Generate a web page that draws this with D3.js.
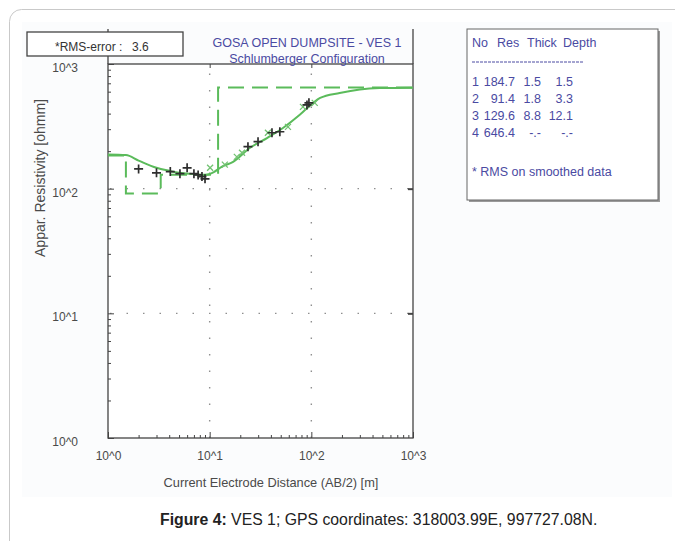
<!DOCTYPE html>
<html><head><meta charset="utf-8">
<script src="https://cdn.jsdelivr.net/npm/d3@7"></script>
<style>html,body{margin:0;padding:0;background:#fff;}svg{display:block;}</style>
</head><body>
<script>
// ---- data ----
const obsX = [2.0, 3.0, 4.1, 5.1, 6.0, 7.0, 7.7, 8.4, 9.0, 23.8, 29.9, 41, 49, 90.6, 94.7];
const obsY = [144, 134, 137, 132, 147, 132, 129, 125, 120, 217, 238, 281, 286, 470, 488];
const smX = [10.1, 14.1, 18.5, 20.8, 37.4, 58.9, 82.7, 108];
const smY = [147, 156, 180, 194, 281, 313, 453, 488];
const curveX = [1, 1.5, 2, 3, 4, 5, 7, 9, 11, 13, 17, 25, 37, 53, 77, 104, 122, 190, 300, 470, 1000];
const curveY = [188, 186, 168, 147, 139, 134, 131, 129, 136, 149, 164, 213, 256, 308, 391, 488, 535, 586, 625, 641, 646];
const layerNo = ["1", "2", "3", "4"];
const layerRes = [184.7, 91.4, 129.6, 646.4];
const layerThick = [1.5, 1.8, 8.8];
const layerDepth = [1.5, 3.3, 12.1];
const decadeTicks = [1, 10, 100, 1000];
const decadeLabels = ["10^0", "10^1", "10^2", "10^3"];
const titleLines = ["GOSA OPEN DUMPSITE - VES 1", "Schlumberger Configuration"];
const rmsLabel = "*RMS-error :", rmsValue = "3.6";
const xTitle = "Current Electrode Distance (AB/2) [m]";
const yTitle = "Appar. Resistivity [ohmm]";

const W = 675, H = 541;
const font = "'Liberation Sans',Arial,sans-serif";
const txtCol = "#4a4a4a", blue = "#4a4aa2", green = "#5bbb5b";

const svg = d3.select("body").append("svg").attr("width", W).attr("height", H)
  .style("font-family", font);

// card
svg.append("rect").attr("x", 9.5).attr("y", 9.5).attr("width", 720).attr("height", 600)
  .attr("rx", 12).attr("fill", "#fff").attr("stroke", "#c9c9c9");
svg.append("rect").attr("x", 22).attr("y", 22).attr("width", 650).attr("height", 475).attr("fill", "#fbfcfd");

const L = 108, R = 413, T = 64, B = 438;
const x = d3.scaleLog().domain([1, 1000]).range([L, R]);
const y = d3.scaleLog().domain([1, 1000]).range([B, T]);

const minor = [];
for (let d = 1; d < 1000; d *= 10) for (let k = 2; k <= 9; k++) minor.push(d * k);

// plot area
svg.append("rect").attr("x", L).attr("y", T).attr("width", R - L).attr("height", B - T).attr("fill", "#fff");

// grid
const g = svg.append("g").attr("stroke", "#8f8f8f").attr("stroke-width", 1.4).attr("stroke-dasharray", "1.5,15");
[10, 100].forEach(v => {
  g.append("line").attr("x1", x(v)).attr("x2", x(v)).attr("y1", B).attr("y2", T);
  g.append("line").attr("y1", y(v)).attr("y2", y(v)).attr("x1", L + 2).attr("x2", R);
});

// minor/major ticks via axes
function clean(sel) { sel.select(".domain").remove(); sel.selectAll("line").attr("stroke", "#444"); }
svg.append("g").attr("transform", `translate(0,${B})`)
  .call(d3.axisBottom(x).tickValues(minor).tickSize(-3).tickFormat("")).call(clean);
svg.append("g").attr("transform", `translate(0,${B})`)
  .call(d3.axisBottom(x).tickValues(decadeTicks).tickSize(-6).tickPadding(13)
    .tickFormat((d, i) => decadeLabels[i])).call(clean)
  .call(s => s.selectAll("text").attr("fill", txtCol).style("font-size", "12px").style("font-family", font));
svg.append("g").attr("transform", `translate(${L},0)`)
  .call(d3.axisLeft(y).tickValues(minor).tickSize(-3).tickFormat("")).call(clean);
svg.append("g").attr("transform", `translate(${L},0)`)
  .call(d3.axisLeft(y).tickValues(decadeTicks).tickSize(-6).tickPadding(30)
    .tickFormat((d, i) => decadeLabels[i])).call(clean)
  .call(s => s.selectAll("text").attr("fill", txtCol).attr("dy", "0.62em").style("font-size", "12px").style("font-family", font));
svg.append("g").attr("transform", `translate(0,${T})`)
  .call(d3.axisTop(x).tickValues([10, 100]).tickSize(-4).tickFormat("")).call(clean);
svg.append("g").attr("transform", `translate(${R},0)`)
  .call(d3.axisRight(y).tickValues([10, 100]).tickSize(-5).tickFormat("")).call(clean)
  .call(s => s.selectAll("line").attr("stroke-width", 2));

// frame
svg.append("rect").attr("x", L).attr("y", T).attr("width", R - L).attr("height", B - T)
  .attr("fill", "none").attr("stroke", "#444").attr("stroke-width", 1.3);
svg.append("line").attr("x1", L).attr("x2", L).attr("y1", 29).attr("y2", T).attr("stroke", "#444").attr("stroke-width", 1.3);
svg.append("line").attr("x1", R).attr("x2", R).attr("y1", 29).attr("y2", T).attr("stroke", "#444").attr("stroke-width", 1.3);

// layered model (step)
const steps = [];
let x0 = 1;
layerRes.forEach((r, i) => {
  const x1 = i < layerDepth.length ? layerDepth[i] : 1000;
  steps.push([x0, r]); steps.push([x1, r]);
  x0 = x1;
});
svg.append("path").attr("d", d3.line().x(d => x(d[0])).y(d => y(d[1]))(steps))
  .attr("fill", "none").attr("stroke", green).attr("stroke-width", 2).attr("stroke-dasharray", "16,8");

// model curve
svg.append("path").attr("d", d3.line().curve(d3.curveMonotoneX).x(d => x(d[0])).y(d => y(d[1]))(curveX.map((v, i) => [v, curveY[i]])))
  .attr("fill", "none").attr("stroke", green).attr("stroke-width", 2);

// smoothed data (x)
smX.forEach((v, i) => {
  const cx = x(v), cy = y(smY[i]), s = 3;
  svg.append("path").attr("d", `M${cx - s},${cy - s}L${cx + s},${cy + s}M${cx - s},${cy + s}L${cx + s},${cy - s}`)
    .attr("stroke", "#72c272").attr("stroke-width", 1.3);
});
// observed data (+)
obsX.forEach((v, i) => {
  const cx = x(v), cy = y(obsY[i]), s = 4.5;
  svg.append("path").attr("d", `M${cx - s},${cy}L${cx + s},${cy}M${cx},${cy - s}L${cx},${cy + s}`)
    .attr("stroke", "#2e2e2e").attr("stroke-width", 1.7);
});

// RMS box
svg.append("rect").attr("x", 27).attr("y", 32).attr("width", 156).attr("height", 24)
  .attr("fill", "#fff").attr("stroke", "#444").attr("stroke-width", 1.3);
svg.append("text").attr("x", 55).attr("y", 51).attr("fill", "#333").style("font-size", "12px").text(rmsLabel);
svg.append("text").attr("x", 132).attr("y", 51).attr("fill", "#333").style("font-size", "12px").text(rmsValue);

// title
titleLines.forEach((t, i) => {
  svg.append("text").attr("x", 307).attr("y", 47 + i * 16).attr("text-anchor", "middle")
    .attr("fill", blue).style("font-size", "12.5px").text(t);
});

// axis titles
svg.append("text").attr("x", 271).attr("y", 487).attr("text-anchor", "middle").attr("fill", txtCol)
  .style("font-size", "12.8px").text(xTitle);
svg.append("text").attr("transform", "translate(45,178) rotate(-90)").attr("text-anchor", "middle")
  .attr("fill", txtCol).style("font-size", "14px").text(yTitle);

// legend box
svg.append("rect").attr("x", 469).attr("y", 31).attr("width", 191).attr("height", 171).attr("fill", "#9a9a9a");
svg.append("rect").attr("x", 467).attr("y", 29).attr("width", 191).attr("height", 171)
  .attr("fill", "#fff").attr("stroke", "#666").attr("stroke-width", 1);
const lg = svg.append("g").attr("fill", blue).style("font-size", "12.5px");
const hdr = [["No", 472], ["Res", 497], ["Thick", 527], ["Depth", 563]];
hdr.forEach(h => lg.append("text").attr("x", h[1]).attr("y", 47).text(h[0]));
svg.append("line").attr("x1", 472).attr("x2", 583).attr("y1", 62).attr("y2", 62)
  .attr("stroke", blue).attr("stroke-width", 1).attr("stroke-dasharray", "3,1");
layerNo.forEach((n, i) => {
  const yy = 86 + i * 17;
  lg.append("text").attr("x", 472).attr("y", yy).text(n);
  lg.append("text").attr("x", 515).attr("y", yy).attr("text-anchor", "end").text(layerRes[i].toFixed(1));
  lg.append("text").attr("x", 541).attr("y", yy).attr("text-anchor", "end").text(i < layerThick.length ? layerThick[i].toFixed(1) : "-.-");
  lg.append("text").attr("x", 573).attr("y", yy).attr("text-anchor", "end").text(i < layerDepth.length ? layerDepth[i].toFixed(1) : "-.-");
});
lg.append("text").attr("x", 472).attr("y", 176).text("* RMS on smoothed data");

// caption
const cap = svg.append("text").attr("x", 160).attr("y", 525).attr("fill", "#222")
  .style("font-family", "'Liberation Sans',Arial,sans-serif").style("font-size", "15.8px");
cap.append("tspan").attr("font-weight", "bold").text("Figure 4:");
cap.append("tspan").text(" VES 1; GPS coordinates: 318003.99E, 997727.08N.");
</script>
</body></html>
